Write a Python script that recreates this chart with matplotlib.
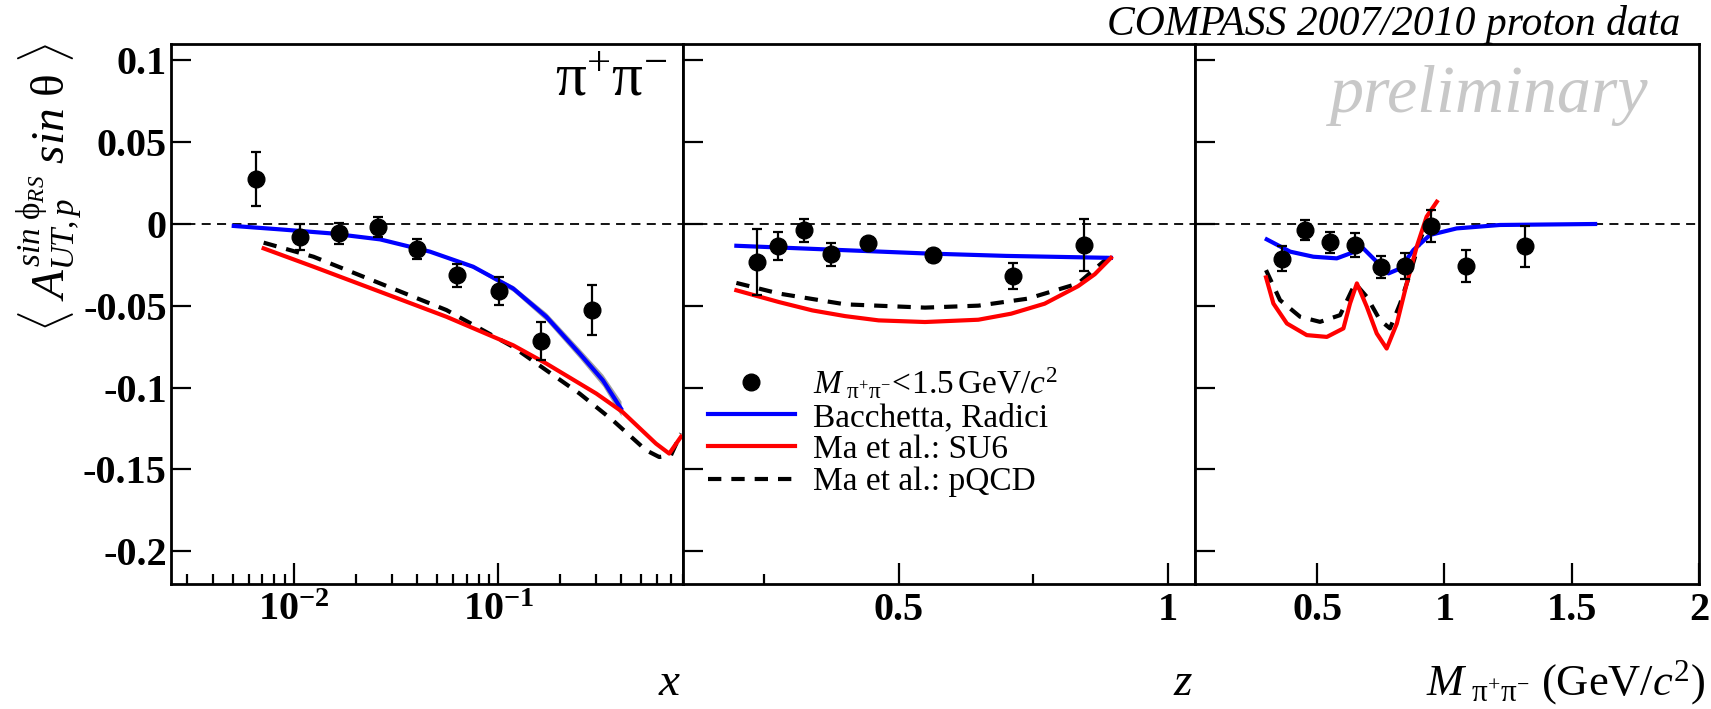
import numpy as np
import matplotlib
matplotlib.use("Agg")
import matplotlib.pyplot as plt
from matplotlib.ticker import FixedLocator, FixedFormatter, NullFormatter

plt.rcParams['font.family'] = ['Liberation Serif', 'DejaVu Serif']
plt.rcParams['mathtext.fontset'] = 'custom'
plt.rcParams['mathtext.rm'] = 'Liberation Serif'
plt.rcParams['mathtext.it'] = 'Liberation Serif:italic'
plt.rcParams['mathtext.bf'] = 'Liberation Serif:bold'

# ---- data: panel 1 (x) ----
x_pts = [0.0065, 0.01065, 0.01652, 0.0257, 0.0401, 0.0628, 0.1007, 0.161, 0.288]
x_val = [0.0276, -0.0078, -0.0057, -0.0018, -0.0151, -0.0314, -0.0408, -0.0716, -0.0526]
x_err = [0.0163, 0.0080, 0.0065, 0.0060, 0.0060, 0.0070, 0.0087, 0.0118, 0.0153]

br_x = [0.00507, 0.00857, 0.01503, 0.02636, 0.04624, 0.0752, 0.118, 0.1716, 0.2494, 0.3243, 0.398]
br_x_val = [-0.0012, -0.0033, -0.0057, -0.0094, -0.0169, -0.0261, -0.0394, -0.0567, -0.0791, -0.0955, -0.1128]
br_x_band = [0.0, 0.0, 0.0, 0.0, 0.0004, 0.001, 0.0018, 0.0025, 0.003, 0.0036, 0.0045]

su6_x = [0.0071, 0.01245, 0.02636, 0.0557, 0.118, 0.1716, 0.301, 0.405, 0.590, 0.685, 0.782]
su6_x_val = [-0.0149, -0.0261, -0.0414, -0.0567, -0.0741, -0.0853, -0.1036, -0.1149, -0.1342, -0.1403, -0.130]

pqcd_x = [0.0071, 0.01245, 0.02636, 0.0557, 0.118, 0.1716, 0.2494, 0.363, 0.528, 0.612, 0.698, 0.782]
pqcd_x_val = [-0.0114, -0.0200, -0.0363, -0.0526, -0.0751, -0.0894, -0.1036, -0.120, -0.1383, -0.1424, -0.1414, -0.128]

# ---- data: panel 2 (z) ----
z_pts = [0.237, 0.277, 0.324, 0.374, 0.444, 0.563, 0.712, 0.844]
z_val = [-0.0233, -0.0135, -0.0039, -0.0184, -0.0119, -0.0192, -0.0319, -0.0129]
z_err = [0.0202, 0.0088, 0.0070, 0.0070, 0.0030, 0.0040, 0.0078, 0.0161]

br_z = [0.199, 0.40, 0.55, 0.70, 0.894]
br_z_val = [-0.0133, -0.0160, -0.0180, -0.0195, -0.0207]

su6_z = [0.199, 0.278, 0.340, 0.401, 0.463, 0.549, 0.648, 0.709, 0.771, 0.833, 0.864, 0.894]
su6_z_val = [-0.0405, -0.0477, -0.0528, -0.0563, -0.0589, -0.0599, -0.0585, -0.0548, -0.0487, -0.0380, -0.0307, -0.0207]

pqcd_z = [0.199, 0.278, 0.401, 0.549, 0.648, 0.740, 0.833, 0.894]
pqcd_z_val = [-0.0360, -0.0425, -0.0491, -0.0511, -0.0499, -0.0456, -0.0364, -0.0190]

# ---- data: panel 3 (M) ----
m_pts = [0.361, 0.451, 0.549, 0.649, 0.750, 0.845, 0.947, 1.086, 1.316]
m_val = [-0.0211, -0.0037, -0.0112, -0.0129, -0.0262, -0.0258, -0.0012, -0.0256, -0.0137]
m_err = [0.0075, 0.0061, 0.0064, 0.0072, 0.0068, 0.0079, 0.0098, 0.0100, 0.0123]

br_m = [0.302, 0.394, 0.485, 0.577, 0.629, 0.681, 0.734, 0.780, 0.826, 0.878, 0.943, 1.048, 1.218, 1.592]
br_m_val = [-0.0094, -0.0169, -0.0200, -0.0210, -0.0180, -0.0149, -0.0231, -0.0302, -0.0272, -0.0159, -0.0067, -0.0027, -0.0006, 0.0]

su6_m = [0.299, 0.328, 0.381, 0.459, 0.538, 0.603, 0.629, 0.656, 0.695, 0.734, 0.773, 0.813, 0.852, 0.891, 0.930, 0.970]
su6_m_val = [-0.0326, -0.0486, -0.0608, -0.0679, -0.0690, -0.0638, -0.0486, -0.0363, -0.0506, -0.0669, -0.0761,
             -0.0608, -0.0363, -0.0139, 0.0045, 0.0136]

pqcd_m = [0.299, 0.354, 0.433, 0.511, 0.590, 0.649, 0.695, 0.747, 0.786, 0.826, 0.865, 0.904, 0.930]
pqcd_m_val = [-0.0282, -0.0465, -0.0567, -0.0598, -0.0557, -0.0363, -0.0445, -0.0588, -0.0638, -0.0486, -0.0302,
              -0.0098, 0.0004]

y_ticks = [0.1, 0.05, 0.0, -0.05, -0.1, -0.15, -0.2]
y_tick_labels = ["0.1", "0.05", "0", "-0.05", "-0.1", "-0.15", "-0.2"]
x_ticks = [0.01, 0.1]
x_tick_labels = [r"$\mathbf{10^{-2}}$", r"$\mathbf{10^{-1}}$"]
z_ticks = [0.5, 1.0]
z_tick_labels = ["0.5", "1"]
m_ticks = [0.5, 1.0, 1.5, 2.0]
m_tick_labels = ["0.5", "1", "1.5", "2"]

BLUE = '#0000ff'
RED = '#ff0000'
TICKSIZE = 29

fig = plt.figure(figsize=(17.11, 7.09), dpi=100)
W, H = 1711.0, 709.0
bottom = 1 - 584 / H
height = (584 - 44) / H
edges = [171, 683, 1195, 1699]
axes = []
for i in range(3):
    ax = fig.add_axes((edges[i] / W, bottom, (edges[i + 1] - edges[i]) / W, height))
    axes.append(ax)
ax1, ax2, ax3 = axes


def style_axis(ax, show_ylabels):
    ax.set_ylim(-0.22, 0.11)
    for sp in ax.spines.values():
        sp.set_linewidth(2.0)
    ax.yaxis.set_major_locator(FixedLocator(y_ticks))
    if show_ylabels:
        ax.yaxis.set_major_formatter(FixedFormatter(y_tick_labels))
    else:
        ax.yaxis.set_major_formatter(NullFormatter())
    ax.tick_params(axis='y', which='both', direction='in', left=True, right=False,
                   length=14.5, width=1.6, pad=3, labelsize=TICKSIZE)
    ax.tick_params(axis='x', which='major', direction='in', bottom=True, top=False,
                   length=15, width=1.6, pad=6, labelsize=TICKSIZE)
    ax.tick_params(axis='x', which='minor', direction='in', bottom=True, top=False,
                   length=7.5, width=1.6)
    ax.axhline(0, color='black', lw=1.3, ls=(0, (5, 3.5)), zorder=1)
    for lab in ax.get_yticklabels() + ax.get_xticklabels():
        lab.set_fontweight('bold')


def draw_points(ax, xs, ys, es, label=None):
    ax.errorbar(xs, ys, yerr=es, fmt='none', ecolor='black', elinewidth=1.6,
                capsize=3.5, capthick=1.6, zorder=5)
    ax.plot(xs, ys, 'o', color='black', ms=12, zorder=6, label=label)


def draw_curves(ax, bx, by, rx, ry, px, py, labels=(None, None, None)):
    ax.plot(bx, by, color=BLUE, lw=3.0, zorder=3, label=labels[0])
    ax.plot(rx, ry, color=RED, lw=3.0, zorder=3, label=labels[1])
    ax.plot(px, py, color='black', lw=3.0, ls=(0, (3.2, 2.4)), zorder=2, label=labels[2])


# panel 1
ax1.set_xscale('log')
ax1.set_xlim(0.0025, 0.8)
br_x_arr = np.array(br_x_val)
band_arr = np.array(br_x_band)
ax1.fill_between(br_x, br_x_arr - band_arr, br_x_arr + band_arr, color='#a0a0a0', lw=0, zorder=2)
draw_curves(ax1, br_x, br_x_val, su6_x, su6_x_val, pqcd_x, pqcd_x_val)
draw_points(ax1, x_pts, x_val, x_err)
ax1.xaxis.set_major_locator(FixedLocator(x_ticks))
ax1.xaxis.set_major_formatter(FixedFormatter(x_tick_labels))
ax1.xaxis.set_minor_locator(matplotlib.ticker.LogLocator(base=10, subs=np.arange(2, 10)))
ax1.xaxis.set_minor_formatter(NullFormatter())
style_axis(ax1, True)
fig.text(667 / W, 1 - 95 / H, r'$\mathrm{\pi^{+}\pi^{-}}$', ha='right', va='baseline', fontsize=44)

# panel 2
ax2.set_xlim(0.1, 1.05)
draw_curves(ax2, br_z, br_z_val, su6_z, su6_z_val, pqcd_z, pqcd_z_val,
            labels=('Bacchetta, Radici', 'Ma et al.: SU6', 'Ma et al.: pQCD'))
draw_points(ax2, z_pts, z_val, z_err,
            label=r'$M_{\ \mathrm{\pi^{+}\pi^{-}}}\!<\!\mathit{1.5}\,\mathrm{GeV}/c^{2}$')
ax2.xaxis.set_major_locator(FixedLocator(z_ticks))
ax2.xaxis.set_major_formatter(FixedFormatter(z_tick_labels))
ax2.xaxis.set_minor_locator(FixedLocator([0.25, 0.75]))
style_axis(ax2, False)
handles, labels = ax2.get_legend_handles_labels()
order = [3, 0, 1, 2]
ax2.legend([handles[i] for i in order], [labels[i] for i in order],
           loc='upper left', bbox_to_anchor=(0.049, 0.405), frameon=False,
           fontsize=24, handlelength=2.6, handletextpad=0.55, labelspacing=0.05,
           borderpad=0, borderaxespad=0)

# panel 3
ax3.set_xlim(0.02, 2.0)
draw_curves(ax3, br_m, br_m_val, su6_m, su6_m_val, pqcd_m, pqcd_m_val)
draw_points(ax3, m_pts, m_val, m_err)
ax3.xaxis.set_major_locator(FixedLocator(m_ticks))
ax3.xaxis.set_major_formatter(FixedFormatter(m_tick_labels))
style_axis(ax3, False)

# axis titles
fig.text(681 / W, 1 - 695 / H, r'$x$', ha='right', va='baseline', fontsize=34)
fig.text(1193 / W, 1 - 695 / H, r'$z$', ha='right', va='baseline', fontsize=34)
fig.text(1705 / W, 1 - 695 / H, r'$M_{\ \mathrm{\pi^{+}\pi^{-}}}$ (GeV/$c^{2}$)',
         ha='right', va='baseline', fontsize=32)
fig.text(50 / W, 1 - 43 / H,
         r'$\langle\ A^{sin\ \mathrm{\phi}_{RS}}_{UT,p}\ sin\ \mathrm{\theta}\ \rangle$',
         rotation=90, ha='center', va='top', fontsize=34)

fig.text(1680 / W, 1 - 35 / H, 'COMPASS 2007/2010 proton data', ha='right', va='baseline',
         fontsize=30, style='italic')
fig.text(1648 / W, 1 - 112 / H, 'preliminary', ha='right', va='baseline',
         fontsize=49, style='italic', color='#c8c8c8')

fig.savefig('out.png', dpi=100)
